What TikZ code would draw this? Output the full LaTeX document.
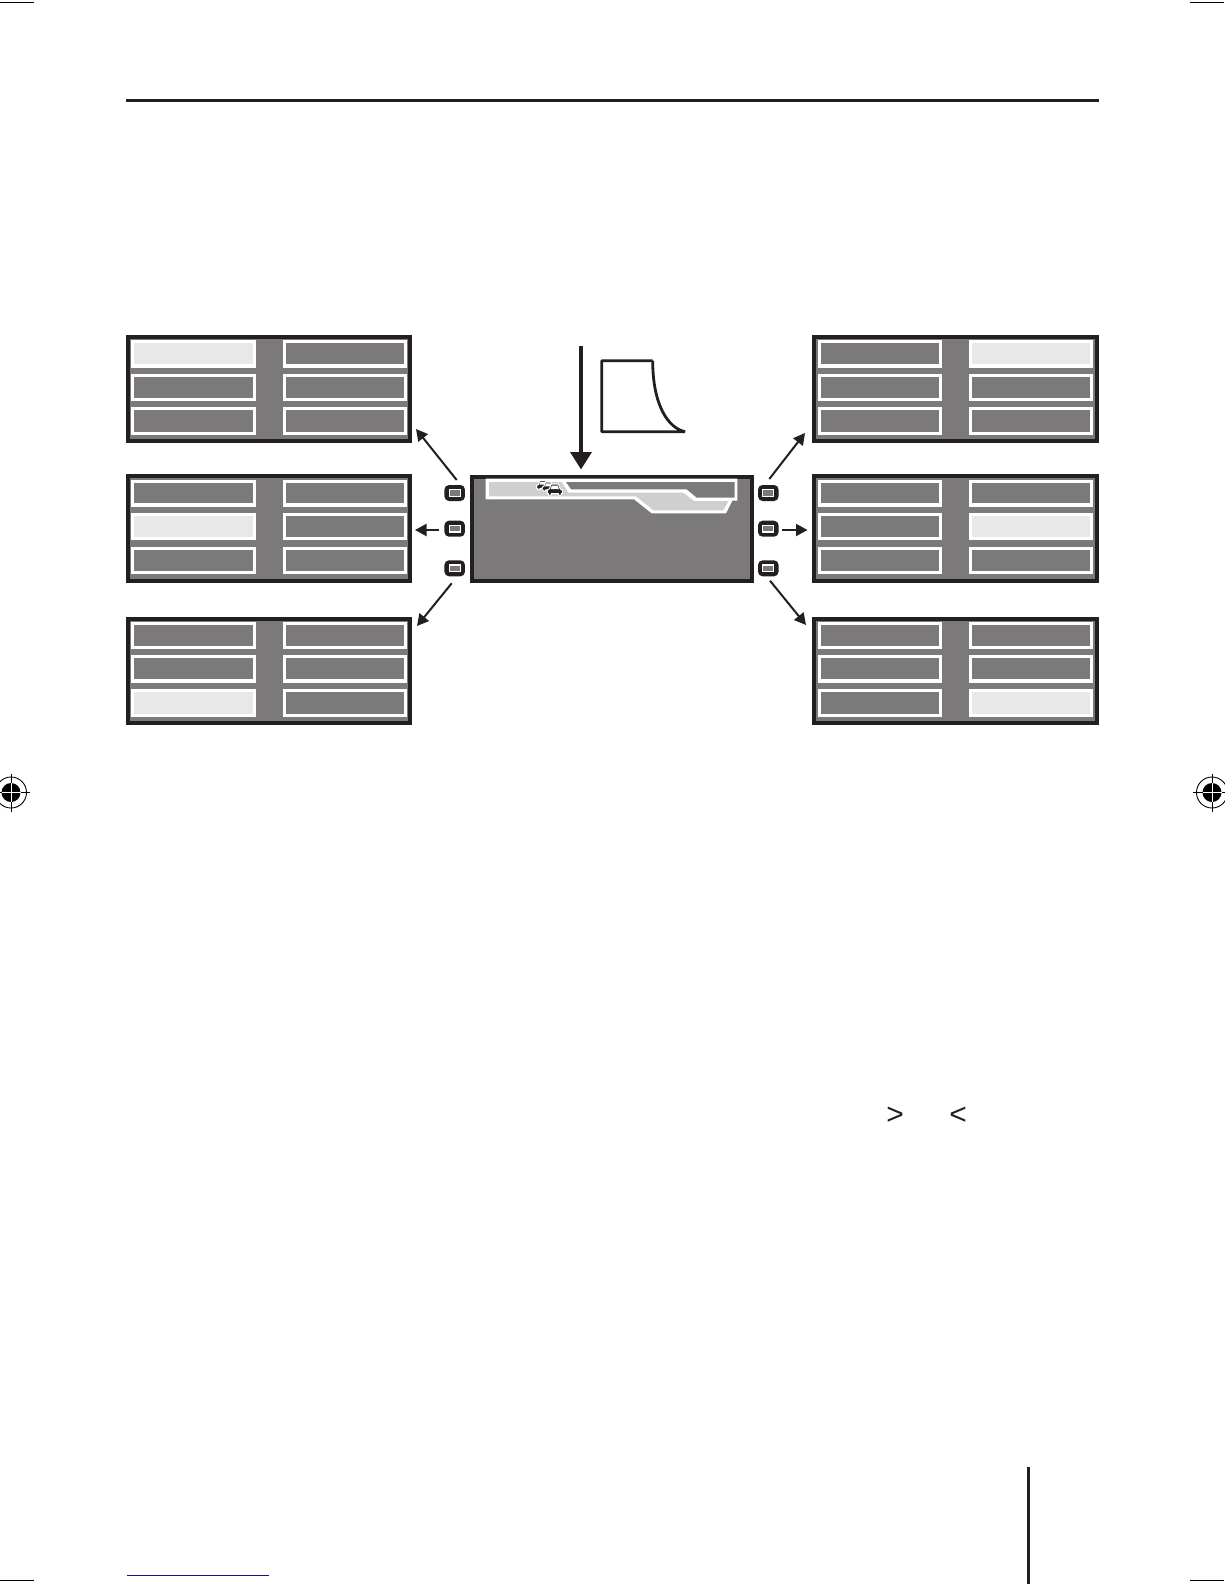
\documentclass[tikz,border=0pt]{standalone}
\usepackage{fontspec}
\setmainfont{Liberation Sans}
\usetikzlibrary{arrows.meta}
\definecolor{lcdgray}{HTML}{7B7979}
\definecolor{inkdark}{HTML}{231F20}
\definecolor{hilite}{HTML}{E8E8E8}
\definecolor{lane}{HTML}{CFCFCF}
\definecolor{linkblue}{HTML}{10109A}
\tikzset{
  panelbox/.style={draw=inkdark,fill=lcdgray,line width=4pt,inner sep=0pt,outer sep=0pt,rectangle},
  cellbox/.style={draw=white,fill=lcdgray,line width=3.4pt},
  cellhi/.style={draw=white,fill=hilite,line width=3.4pt},
  button/.style={rectangle,rounded corners=4.5pt,fill=inkdark,minimum width=20.5pt,minimum height=16pt,inner sep=0pt,
    path picture={\draw[white,fill=lcdgray,line width=1.2pt,sharp corners] ([xshift=-5.5pt,yshift=-3.3pt]path picture bounding box.center) rectangle ([xshift=5.5pt,yshift=3.3pt]path picture bounding box.center);}},
  thinarrow/.style={draw=inkdark,line width=2pt,-{Triangle[length=11.5pt,width=12pt]}},
  mainarrow/.style={draw=inkdark,line width=3.6pt,-{Triangle[length=17.5pt,width=21pt]}},
  rule/.style={draw=inkdark,line width=3pt},
  crop/.style={draw=black,line width=1pt},
  regline/.style={draw=black,line width=.8pt},
  mathmark/.style={font=\fontsize{30}{30}\selectfont,text=inkdark,inner sep=0pt},
}
% name, x0, x1, y0, y1, rows t/b, columns a/e
\newcommand{\mypanel}[7]{%
  \node[panelbox,minimum width={#3-#2-4pt},minimum height={#5-#4-4pt}] (#1) at ({(#2+#3)/2},{(#4+#5)/2}) {};
  \foreach \rt/\rb in {#6}{\foreach \ca/\ce in {#7}{\draw[cellbox] ({\ca+1.7},{\rt+1.7}) rectangle ({\ce-1.7},{\rb-1.7});}}
}
\newcommand{\hicell}[4]{\draw[cellhi] ({#1+1.7},{#3+1.7}) rectangle ({#2-1.7},{#4-1.7});}
% x, y, scale
\newcommand{\mycar}[3]{%
  \begin{scope}[shift={(#1,#2)},scale=#3]
    \path[draw=white,line width=1pt,fill=inkdark,line join=round] (2,5) -- (4,0) -- (11,0) -- (13,5) -- (15,6) -- (15,9.5) -- (14,9.5) -- (14,11) -- (11,11) -- (11,9.5) -- (4,9.5) -- (4,11) -- (1,11) -- (1,9.5) -- (0,9.5) -- (0,6) -- cycle;
    \fill[white] (4.6,1.5) -- (10.4,1.5) -- (11.6,5) -- (3.4,5) -- cycle;
  \end{scope}}
% x, y
\newcommand{\regmark}[2]{%
  \fill[black] (#1,#2) circle (9.5);
  \draw[regline,line width=.9pt] (#1,#2) circle (15.5);
  \draw[regline] ({#1-19},#2) -- ({#1+19},#2);
  \draw[regline] (#1,{#2-19}) -- (#1,{#2+19});
  \draw[white,line width=.8pt] ({#1-9.5},#2) -- ({#1+9.5},#2);
  \draw[white,line width=.8pt] (#1,{#2-9.5}) -- (#1,{#2+9.5});
}
\begin{document}
\begin{tikzpicture}[x=1pt,y=-1pt]
\useasboundingbox (0,0) rectangle (1224,1584);
\fill[white] (0,0) rectangle (1224,1584);
% page furniture
\draw[rule] (126,100.5) -- (1099,100.5);
\draw[rule] (1028.5,1467) -- (1028.5,1584);
\draw[draw=linkblue,line width=1pt] (127,1575.5) -- (269,1575.5);
\draw[crop] (0,2.5) -- (34,2.5);
\draw[crop] (1190,2.5) -- (1224,2.5);
\draw[crop] (0,1580) -- (34,1580);
\draw[crop] (1190,1580) -- (1224,1580);
\regmark{11}{792.5}
\regmark{1212}{792.5}
% left panels
\mypanel{pTL}{126}{411.7}{335}{443}{340/367.7,374/401,407/435}{131/256,283/407}
\hicell{131}{256}{340}{367.7}
\mypanel{pML}{126}{411.7}{474}{582.7}{480/506.7,513/540,547/574}{131/256,283/407}
\hicell{131}{256}{513}{540}
\mypanel{pBL}{126}{411.7}{617}{724.7}{622/649.3,655/682.7,689/717}{131/256,283/407}
\hicell{131}{256}{689}{717}
% right panels
\mypanel{pTR}{812}{1099}{335}{443}{340/367.7,374/401,407/435}{817.7/942,969/1093}
\hicell{969}{1093}{340}{367.7}
\mypanel{pMR}{812}{1099}{474}{582.7}{480/506.7,513/540,547/574}{817.7/942,969/1093}
\hicell{969}{1093}{513}{540}
\mypanel{pBR}{812}{1099}{617}{724.7}{622/649.3,655/682.7,689/717}{817.7/942,969/1093}
\hicell{969}{1093}{689}{717}
% centre display
\node[panelbox,minimum width=280pt,minimum height=103.7pt] (lcd) at (612,528.85) {};
\fill[white] (485.7,478.7) -- (737.3,478.7) -- (737.3,500.7) -- (732.3,500.7) -- (726,513.3) -- (651.7,513.3) -- (634,499.3) -- (485.7,499.3) -- cycle;
\fill[lane] (489,482) -- (561.7,482) -- (568.3,492.7) -- (683.3,492.7) -- (694,501) -- (728.3,501) -- (723.3,510.3) -- (653.3,510.3) -- (636,496.3) -- (489,496.3) -- cycle;
\fill[lcdgray] (566,482) -- (734.7,482) -- (734.7,497.7) -- (696.7,497.7) -- (686.7,489.3) -- (571,489.3) -- cycle;
\mycar{536.7}{480.7}{.8}
\mycar{542.2}{482.2}{.82}
\mycar{547.3}{484}{1}
% buttons
\node[button] (bL1) at (454.7,493) {};
\node[button] (bL2) at (454.7,528.7) {};
\node[button] (bL3) at (454.7,568.3) {};
\node[button] (bR1) at (768.3,493) {};
\node[button] (bR2) at (768.3,528.7) {};
\node[button] (bR3) at (768.3,568.3) {};
% connector ends
\coordinate (sL1) at (456.7,480);   \coordinate (eL1) at (416,429);
\coordinate (sL2) at (439,530);     \coordinate (eL2) at (415,530);
\coordinate (sL3) at (451.7,583.3); \coordinate (eL3) at (417,626);
\coordinate (sR1) at (769.3,479);   \coordinate (eR1) at (805,433);
\coordinate (sR2) at (782.3,530);   \coordinate (eR2) at (807.5,530);
\coordinate (sR3) at (770,580.7);   \coordinate (eR3) at (806,625);
\coordinate (sM) at (581,346);      \coordinate (eM) at (581,469.5);
\draw[thinarrow] (sL1) -- (eL1);
\draw[thinarrow] (sL2) -- (eL2);
\draw[thinarrow] (sL3) -- (eL3);
\draw[thinarrow] (sR1) -- (eR1);
\draw[thinarrow] (sR2) -- (eR2);
\draw[thinarrow] (sR3) -- (eR3);
\draw[mainarrow] (sM) -- (eM);
% decay curve
\draw[draw=inkdark,line width=2.8pt,line join=bevel] (652.7,360.7) -- (601.7,360.7) -- (601.7,431.7) -- (685,431.7) .. controls (668,428) and (652.7,405) .. (652.7,360.7);
% comparison signs
\node[mathmark] (gtsign) at (895.2,1115.5) {>};
\node[mathmark] (ltsign) at (958,1115.5) {<};
\end{tikzpicture}
\end{document}
